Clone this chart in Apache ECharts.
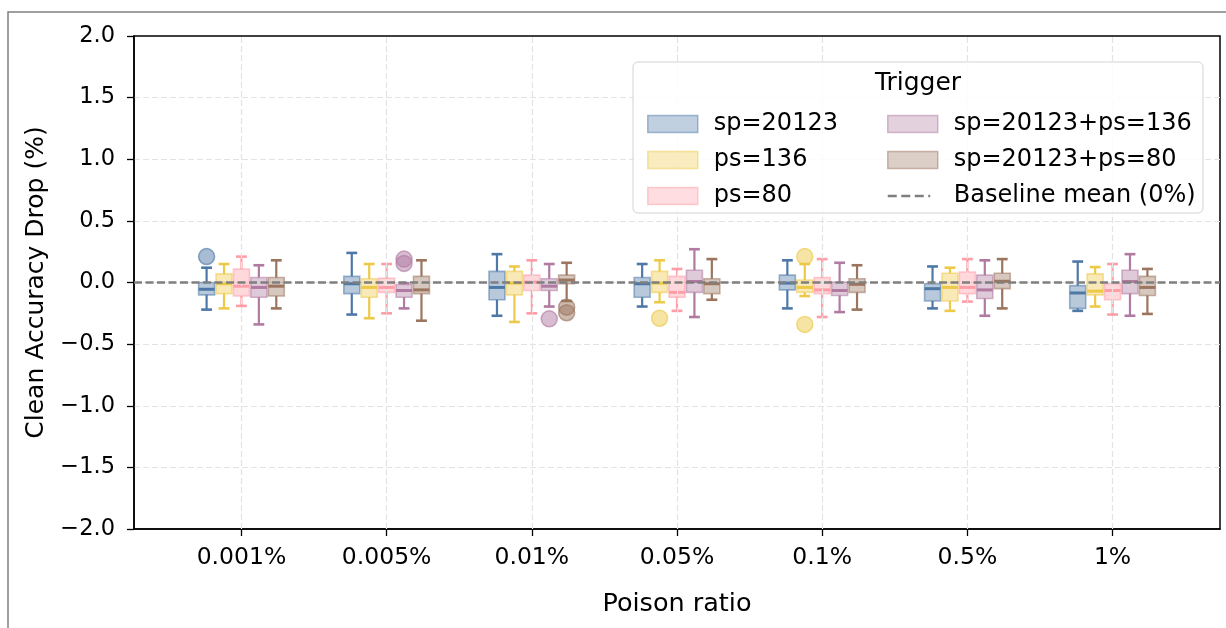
<!DOCTYPE html>
<html>
<head>
<meta charset="utf-8">
<script src="https://cdn.jsdelivr.net/npm/echarts@6/dist/echarts.min.js"></script>
<style>html,body{margin:0;padding:0;background:#fff;}#chart{width:1226px;height:628px;}</style>
</head>
<body>
<div id="chart"></div>
<script>
// ---- Data ----
const categories = ['0.001%', '0.005%', '0.01%', '0.05%', '0.1%', '0.5%', '1%'];
const seriesNames = ['sp=20123', 'ps=136', 'ps=80', 'sp=20123+ps=136', 'sp=20123+ps=80'];
const baselineName = 'Baseline mean (0%)';
const yTicks = [-2.0, -1.5, -1.0, -0.5, 0.0, 0.5, 1.0, 1.5, 2.0];

// each row: [lower whisker, Q1, median, Q3, upper whisker] per category
const boxSp20123 = [
  [-0.22, -0.10, -0.055, 0.00, 0.12],
  [-0.26, -0.09, -0.01, 0.05, 0.24],
  [-0.27, -0.14, -0.04, 0.09, 0.23],
  [-0.195, -0.12, -0.01, 0.04, 0.15],
  [-0.21, -0.06, -0.005, 0.06, 0.18],
  [-0.21, -0.15, -0.05, -0.01, 0.13],
  [-0.23, -0.21, -0.085, -0.025, 0.17]
];
const boxPs136 = [
  [-0.21, -0.09, -0.01, 0.07, 0.15],
  [-0.29, -0.12, -0.04, 0.03, 0.15],
  [-0.32, -0.10, -0.005, 0.09, 0.13],
  [-0.16, -0.08, -0.005, 0.09, 0.18],
  [-0.11, -0.08, -0.04, 0.02, 0.15],
  [-0.23, -0.15, -0.04, 0.075, 0.12],
  [-0.195, -0.10, -0.07, 0.07, 0.125]
];
const boxPs80 = [
  [-0.19, -0.11, -0.03, 0.11, 0.21],
  [-0.25, -0.08, -0.04, 0.035, 0.15],
  [-0.25, -0.065, 0.003, 0.06, 0.18],
  [-0.23, -0.12, -0.08, 0.05, 0.11],
  [-0.28, -0.09, -0.06, 0.04, 0.19],
  [-0.155, -0.09, -0.04, 0.085, 0.19],
  [-0.26, -0.14, -0.065, -0.01, 0.15]
];
const boxSpPs136 = [
  [-0.34, -0.12, -0.04, 0.04, 0.14],
  [-0.21, -0.12, -0.065, -0.016, -0.005],
  [-0.195, -0.065, -0.03, 0.03, 0.15],
  [-0.28, -0.08, 0.008, 0.10, 0.27],
  [-0.24, -0.105, -0.065, 0.003, 0.16],
  [-0.27, -0.13, -0.06, 0.06, 0.18],
  [-0.27, -0.09, 0.008, 0.10, 0.23]
];
const boxSpPs80 = [
  [-0.21, -0.11, -0.03, 0.04, 0.18],
  [-0.31, -0.09, -0.06, 0.05, 0.18],
  [-0.15, -0.01, 0.02, 0.06, 0.16],
  [-0.14, -0.09, -0.01, 0.03, 0.19],
  [-0.22, -0.08, -0.015, 0.03, 0.14],
  [-0.21, -0.05, 0.01, 0.075, 0.19],
  [-0.255, -0.105, -0.04, 0.05, 0.11]
];
// outliers: [category index, value]
const outSp20123 = [[0, 0.21]];
const outPs136 = [[3, -0.29], [4, 0.21], [4, -0.34]];
const outPs80 = [];
const outSpPs136 = [[1, 0.19], [1, 0.155], [2, -0.295]];
const outSpPs80 = [[2, -0.20], [2, -0.245]];

const boxData = [boxSp20123, boxPs136, boxPs80, boxSpPs136, boxSpPs80];
const outData = [outSp20123, outPs136, outPs80, outSpPs136, outSpPs80];
const colors = [[78, 121, 167], [237, 201, 72], [255, 157, 167], [176, 122, 161], [156, 117, 95]];

// ---- Layout constants ----
const X_MIN = -0.74, X_MAX = categories.length - 1 + 0.74;
const OFFSET_STEP = 0.12, BOX_W = 0.11;
const FONT = 'DejaVu Sans';
const rgba = (c, a) => `rgba(${c[0]},${c[1]},${c[2]},${a})`;

function renderBox(color) {
  return function (params, api) {
    const x = api.value(0);
    const low = api.value(1), q1 = api.value(2), med = api.value(3), q3 = api.value(4), high = api.value(5);
    const halfW = api.size([BOX_W, 0])[0] / 2;
    const capHalf = halfW * 0.68;
    const cx = api.coord([x, med])[0];
    const yLow = api.coord([x, low])[1];
    const yQ1 = api.coord([x, q1])[1];
    const yMed = api.coord([x, med])[1];
    const yQ3 = api.coord([x, q3])[1];
    const yHigh = api.coord([x, high])[1];
    const solid = rgba(color, 1);
    return {
      type: 'group',
      children: [
        { type: 'line', shape: { x1: cx, y1: yQ3, x2: cx, y2: yHigh }, style: { stroke: solid, lineWidth: 2.2 } },
        { type: 'line', shape: { x1: cx, y1: yQ1, x2: cx, y2: yLow }, style: { stroke: solid, lineWidth: 2.2 } },
        { type: 'line', shape: { x1: cx - capHalf, y1: yHigh, x2: cx + capHalf, y2: yHigh }, style: { stroke: solid, lineWidth: 2.6 } },
        { type: 'line', shape: { x1: cx - capHalf, y1: yLow, x2: cx + capHalf, y2: yLow }, style: { stroke: solid, lineWidth: 2.6 } },
        { type: 'rect', shape: { x: cx - halfW, y: yQ3, width: halfW * 2, height: yQ1 - yQ3 },
          style: { fill: rgba(color, 0.4), stroke: rgba(color, 0.55), lineWidth: 1.6 } },
        { type: 'line', shape: { x1: cx - halfW, y1: yMed, x2: cx + halfW, y2: yMed }, style: { stroke: solid, lineWidth: 3 } }
      ]
    };
  };
}

const series = [];
// vertical grid lines at category centres
series.push({
  name: 'grid',
  type: 'line',
  z: 1,
  symbol: 'none',
  silent: true,
  data: [],
  markLine: {
    silent: true, symbol: 'none', label: { show: false },
    lineStyle: { color: '#e3e3e3', width: 1.2, type: [6, 3] },
    data: categories.map((c, i) => ({ xAxis: i }))
  }
});
seriesNames.forEach((name, s) => {
  const off = (s - 2) * OFFSET_STEP;
  series.push({
    name: name,
    type: 'custom',
    z: 3,
    itemStyle: { color: rgba(colors[s], 0.35) },
    renderItem: renderBox(colors[s]),
    encode: { x: 0, y: [1, 2, 3, 4, 5] },
    data: boxData[s].map((b, i) => [i + off, b[0], b[1], b[2], b[3], b[4]])
  });
  series.push({
    name: name,
    type: 'scatter',
    z: 4,
    symbolSize: 16,
    itemStyle: { color: rgba(colors[s], 0.62), borderColor: rgba(colors[s], 0.8), borderWidth: 1.5 },
    data: outData[s].map(o => [o[0] + off, o[1]])
  });
});
// baseline on top of the boxes
series.push({
  name: baselineName,
  type: 'line',
  z: 5,
  symbol: 'none',
  silent: true,
  data: [[X_MIN, 0], [X_MAX, 0]],
  itemStyle: { color: '#7f7f7f' },
  lineStyle: { color: '#7f7f7f', width: 2.5, type: [8, 3.5] }
});

const legendText = { fontSize: 24, fontFamily: FONT, color: '#000', padding: [0, 0, 0, 11], lineHeight: 24 };
const legendItem = (s) => ({
  name: seriesNames[s], icon: 'rect',
  itemStyle: { color: rgba(colors[s], 0.35), borderColor: rgba(colors[s], 0.5), borderWidth: 1.5 }
});
const dashIcon = 'path://M0,7.25h9v2.5h-9z M13.5,7.25h9v2.5h-9z M27,7.25h9v2.5h-9z M40.5,7.25h2v2.5h-2z M0,0h0.01v0.01h-0.01z M50,17h-0.01v-0.01h0.01z';

const option = {
  animation: false,
  backgroundColor: '#fff',
  grid: { left: 134, top: 36, right: 6, bottom: 99, show: true, borderColor: '#000', borderWidth: 1.5, backgroundColor: 'transparent' },
  xAxis: {
    type: 'value', min: X_MIN, max: X_MAX,
    name: 'Poison ratio', nameLocation: 'middle', nameGap: 62,
    nameTextStyle: { fontSize: 25.5, fontFamily: FONT, color: '#000' },
    axisLine: { show: true, onZero: false, lineStyle: { color: '#000', width: 1.5 } },
    axisTick: { show: true, length: 7, customValues: categories.map((c, i) => i), lineStyle: { color: '#000', width: 1.3 } },
    axisLabel: { customValues: categories.map((c, i) => i), formatter: v => categories[Math.round(v)] ?? '',
      fontSize: 23.5, fontFamily: FONT, color: '#000', margin: 17 },
    splitLine: { show: false }
  },
  yAxis: {
    type: 'value', min: -2, max: 2, interval: 0.5,
    name: 'Clean Accuracy Drop (%)', nameLocation: 'middle', nameGap: 85,
    nameTextStyle: { fontSize: 25, fontFamily: FONT, color: '#000' },
    axisLine: { show: true, onZero: false, lineStyle: { color: '#000', width: 1.5 } },
    axisTick: { show: true, length: 7, lineStyle: { color: '#000', width: 1.3 } },
    axisLabel: { fontSize: 22.5, fontFamily: FONT, color: '#000', margin: 19,
      formatter: v => (v < 0 ? '\u2212' : '') + Math.abs(v).toFixed(1) },
    splitLine: { show: true, showMinLine: false, showMaxLine: false, lineStyle: { color: '#e3e3e3', width: 1.2, type: [6, 3] } }
  },
  legend: [
    { z: 10, orient: 'vertical', left: 642, top: 107, itemWidth: 50, itemHeight: 17, itemGap: 12,
      selectedMode: false, textStyle: legendText,
      data: [legendItem(0), legendItem(1), legendItem(2)] },
    { z: 10, orient: 'vertical', left: 882, top: 107, itemWidth: 50, itemHeight: 17, itemGap: 12,
      selectedMode: false, textStyle: legendText,
      data: [legendItem(3), legendItem(4), { name: baselineName, icon: dashIcon, itemStyle: { color: '#7f7f7f', borderWidth: 0 } }] }
  ],
  graphic: [
    { type: 'polyline', z: 0, silent: true, shape: { points: [[8, 628], [8, 12], [1226, 12]] },
      style: { stroke: '#808080', lineWidth: 1.5, fill: null } },
    { type: 'rect', z: 8, silent: true, shape: { x: 633, y: 62, width: 570, height: 151, r: 5 },
      style: { fill: 'rgba(255,255,255,0.85)', stroke: '#d3d3d3', lineWidth: 1 } },
    { type: 'text', z: 9, silent: true, x: 918, y: 83,
      style: { text: 'Trigger', fontSize: 25, fontFamily: FONT, fill: '#000', align: 'center', verticalAlign: 'middle' } }
  ],
  series: series
};

const chart = echarts.init(document.getElementById('chart'), null, { renderer: 'canvas' });
chart.setOption(option);
</script>
</body>
</html>
